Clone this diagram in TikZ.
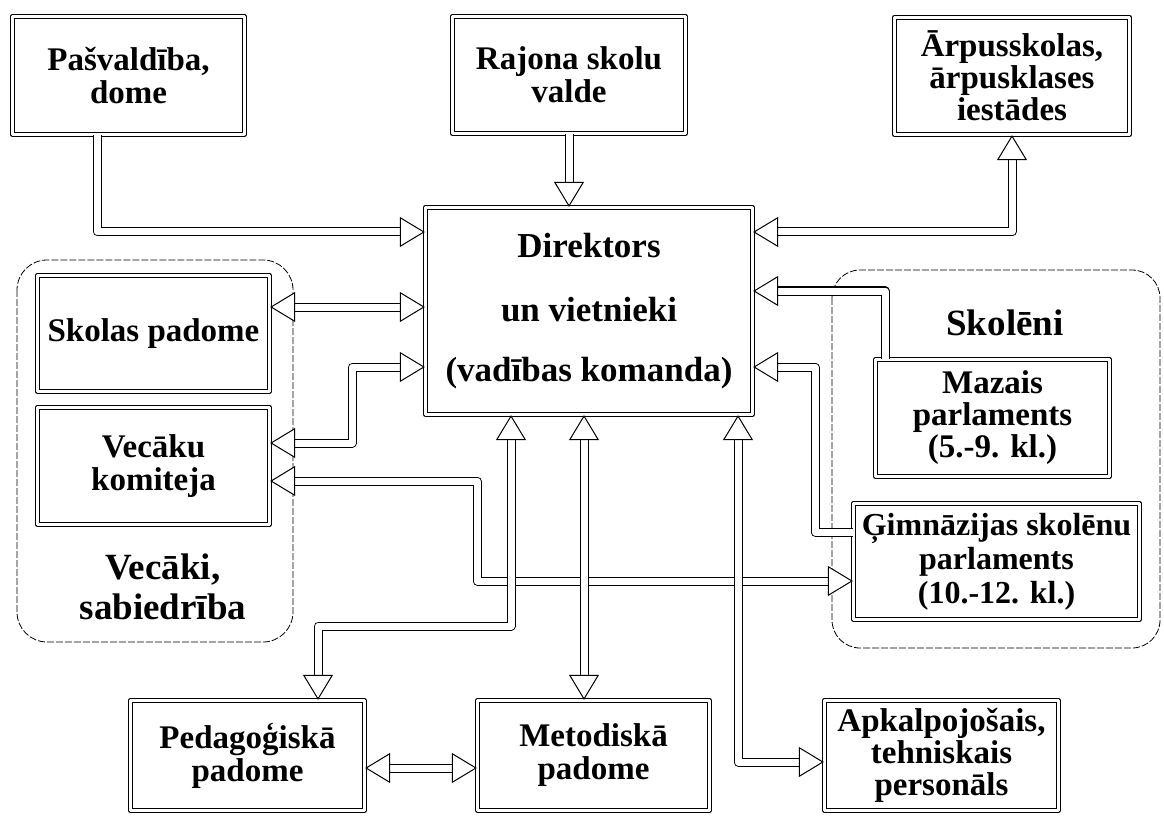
\documentclass[tikz,border=0pt]{standalone}
\usepackage{fontspec}
\setmainfont{Liberation Serif}
\usetikzlibrary{arrows.meta}
\begin{document}
\begin{tikzpicture}[x=1pt, y=-1pt, line join=round]
\tikzstyle{block} = [draw, double, line width=1.3pt, double distance=2.6pt, align=center, inner sep=0pt, font=\bfseries\fontsize{33}{33}\selectfont]
\tikzstyle{region} = [draw, line width=0.8pt, dash pattern=on 7pt off 2pt, rounded corners=30pt]
\tikzstyle{label} = [align=center, font=\bfseries\fontsize{37}{40}\selectfont]
\tikzstyle{link} = [double, line width=1pt, double distance=7pt, -{Triangle[length=25pt, width=30pt, fill=white, line width=1pt]}]
\tikzstyle{link2} = [link, {Triangle[length=25pt, width=30pt, fill=white, line width=1pt]}-{Triangle[length=25pt, width=30pt, fill=white, line width=1pt]}]
  \useasboundingbox (0,0) rectangle (1164,818);
  % groups
  \draw[region] (17,260) rectangle (293,642);
  \draw[region, rounded corners=28pt] (832,270) rectangle (1160,648);
  \node[label] (vec) at (163,587) {Vecāki,\\sabiedrība};
  \node[label] (skol) at (1005,323) {Skolēni};
  % boxes
  \node[block, minimum width=232pt, minimum height=118pt] (dome) at (128.5,75.5) {Pašvaldība,\\dome};
  \node[block, minimum width=233pt, minimum height=117pt] (valde) at (569,75) {Rajona skolu\\valde};
  \node[block, minimum width=235pt, minimum height=117pt, font=\bfseries\fontsize{33}{32}\selectfont] (arpus) at (1012,76) {Ārpusskolas,\\ārpusklases\\iestādes};
  \node[block, minimum width=327pt, minimum height=207pt, font=\bfseries\fontsize{35}{36}\selectfont] (dir) at (589,311) {Direktors\\[28pt]un vietnieki\\[24pt](vadības komanda)};
  \node[block, minimum width=232pt, minimum height=116pt] (pad) at (153.5,333.5) {Skolas padome};
  \node[block, minimum width=232pt, minimum height=117pt] (kom) at (153.5,466) {Vecāku\\komiteja};
  \node[block, minimum width=234pt, minimum height=117pt, font=\bfseries\fontsize{33}{32}\selectfont] (maz) at (992.5,418) {Mazais\\parlaments\\(5.-9. kl.)};
  \node[block, minimum width=286pt, minimum height=116pt, font=\bfseries\fontsize{32}{34}\selectfont] (gimn) at (996.5,561.5) {Ģimnāzijas skolēnu\\parlaments\\(10.-12. kl.)};
  \node[block, minimum width=234pt, minimum height=110pt] (peda) at (247.5,755.5) {Pedagoģiskā\\padome};
  \node[block, minimum width=232pt, minimum height=110pt] (metod) at (593.5,755.5) {Metodiskā\\padome};
  \node[block, minimum width=234pt, minimum height=110pt, font=\bfseries\fontsize{33}{32}\selectfont] (apk) at (941.5,755.5) {Apkalpojošais,\\tehniskais\\personāls};
  % connectors
  \draw[link] (dome.south -| 97,0) |- (dir.west |- 0,232);
  \draw[link] (valde.south) -- (valde.south |- dir.north);
  \draw[link2] (dir.east |- 0,232) -| (arpus.south);
  \draw[link2] (pad.east |- 0,307) -- (dir.west |- 0,307);
  \draw[link2] (kom.east |- 0,443) -| (352,367) -- (dir.west |- 0,367);
  \draw[link2] (kom.east |- 0,481) -| (477,581) -- (gimn.west |- 0,581);
  \draw[link2] (dir.south -| 511,0) -- (511,626) -| (peda.north -| 318,0);
  \draw[link2] (dir.south -| 584,0) -- (metod.north -| 584,0);
  \draw[link2] (dir.south -| 738,0) |- (apk.west |- 0,762);
  \draw[link] (maz.north -| 885,0) |- (dir.east |- 0,291);
  \draw[link] (gimn.west |- 0,532) -| (815,367) -- (dir.east |- 0,367);
  \draw[link2] (peda.east |- 0,768) -- (metod.west |- 0,768);
\end{tikzpicture}
\end{document}
